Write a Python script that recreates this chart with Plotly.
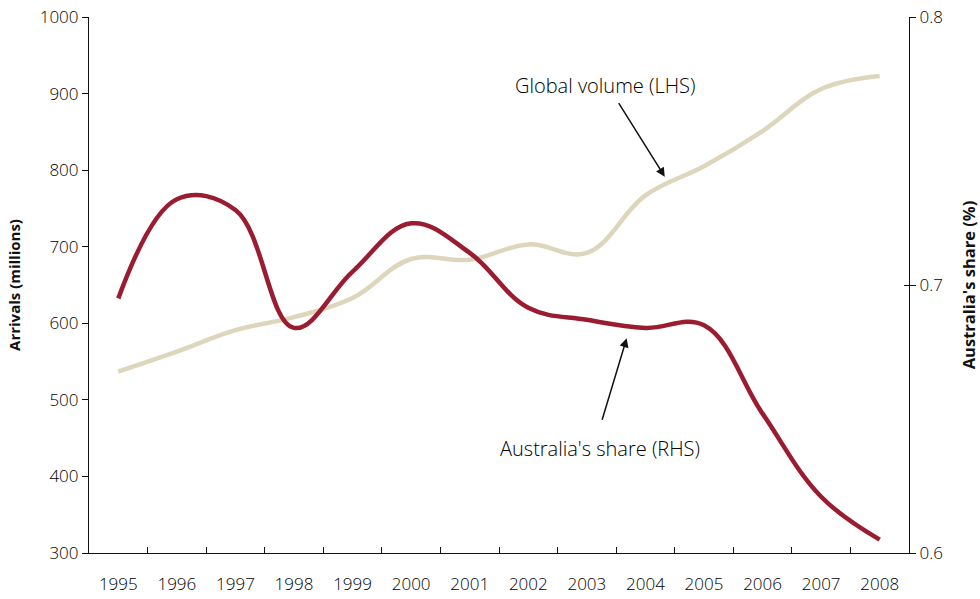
import plotly.graph_objects as go

years = list(range(1995, 2009))
global_volume = [537, 563, 591, 608, 633, 684, 683, 703, 692, 767, 805, 851, 906, 923]
aus_share = [0.695, 0.732, 0.728, 0.684, 0.705, 0.723, 0.712, 0.6915, 0.687, 0.684, 0.685, 0.652, 0.621, 0.605]
left_ticks = [300, 400, 500, 600, 700, 800, 900, 1000]
right_ticks = [0.6, 0.7, 0.8]
boundaries = [y - 0.5 for y in years] + [years[-1] + 0.5]

RED = "#9B1B30"
GOLD = "#DDD6BC"
FONT = "Open Sans"
TXT = "#111111"

fig = go.Figure()
fig.add_trace(go.Scatter(x=years, y=global_volume, mode="lines", name="Global volume (LHS)",
                         line=dict(color=GOLD, width=4.5, shape="spline", smoothing=1.1),
                         xaxis="x", yaxis="y", hoverinfo="skip"))
fig.add_trace(go.Scatter(x=years, y=aus_share, mode="lines", name="Australia's share (RHS)",
                         line=dict(color=RED, width=4.5, shape="spline", smoothing=1.1),
                         xaxis="x", yaxis="y2", hoverinfo="skip"))
# invisible traces to anchor the helper tick axes
fig.add_trace(go.Scatter(x=[years[0]], y=[global_volume[0]], mode="markers", marker=dict(opacity=0),
                         xaxis="x2", yaxis="y", showlegend=False, hoverinfo="skip"))
fig.add_trace(go.Scatter(x=[years[0]], y=[aus_share[0]], mode="markers", marker=dict(opacity=0),
                         xaxis="x", yaxis="y3", showlegend=False, hoverinfo="skip"))

tickfont = dict(size=17, family=FONT, color="#000000", weight=300)
xr = [boundaries[0], boundaries[-1]]
fig.update_layout(
    width=980, height=599,
    margin=dict(l=89, r=71, t=17, b=46, autoexpand=False),
    paper_bgcolor="white", plot_bgcolor="white",
    showlegend=False,
    font=dict(family=FONT, size=17, color=TXT),
    xaxis=dict(range=xr, tickvals=years, ticktext=[str(y) for y in years], ticks="",
               showline=True, linecolor=TXT, linewidth=1.2, showgrid=False, zeroline=False,
               tickfont=tickfont, anchor="y", automargin=False, ticklabelstandoff=15,
               ticklabeloverflow="allow"),
    xaxis2=dict(range=xr, overlaying="x", tickvals=boundaries, ticks="inside", ticklen=6,
                tickcolor=TXT, tickwidth=1.2, showticklabels=False, showline=False,
                showgrid=False, zeroline=False, side="bottom", anchor="y", automargin=False),
    yaxis=dict(range=[300, 1000], tickvals=left_ticks, ticks="outside", ticklen=6,
               tickcolor=TXT, tickwidth=1.2, showline=True, linecolor=TXT, linewidth=1.2,
               showgrid=False, zeroline=False, tickfont=tickfont, automargin=False,
               ticklabeloverflow="allow",
               title=dict(text="<b>Arrivals (millions)</b>", font=dict(size=15, family=FONT), standoff=15)),
    yaxis2=dict(range=[0.6, 0.8], tickvals=right_ticks, tickformat=".1f", overlaying="y", side="right",
                ticks="outside", ticklen=6, tickcolor=TXT, tickwidth=1.2, showline=True,
                linecolor=TXT, linewidth=1.2, showgrid=False, zeroline=False,
                tickfont=tickfont, anchor="x", automargin=False, ticklabeloverflow="allow",
                title=dict(text="<b>Australia's share (%)</b>", font=dict(size=16.5, family=FONT), standoff=21)),
    yaxis3=dict(range=[0.6, 0.8], tickvals=right_ticks, overlaying="y", side="right", anchor="x",
                ticks="inside", ticklen=5, tickcolor=TXT, tickwidth=1.2, showticklabels=False,
                showline=False, showgrid=False, zeroline=False, automargin=False),
)

annfont = dict(size=20, family=FONT, color="#000000", weight=300)
fig.add_annotation(x=2003.31, y=911, xref="x", yref="y", text="Global volume (LHS)",
                   showarrow=False, font=annfont)
fig.add_annotation(x=2003.22, y=437, xref="x", yref="y", text="Australia's share (RHS)",
                   showarrow=False, font=annfont)
fig.add_annotation(x=2004.33, y=791.5, xref="x", yref="y", text="", showarrow=True,
                   ax=-47, ay=-75, arrowhead=2, arrowsize=1.2, arrowwidth=1.5, arrowcolor="#111111",
                   standoff=0, startstandoff=0)
fig.add_annotation(x=2003.68, y=580.4, xref="x", yref="y", text="", showarrow=True,
                   ax=-25, ay=83, arrowhead=2, arrowsize=1.2, arrowwidth=1.5, arrowcolor="#111111",
                   standoff=0, startstandoff=0)

fig.write_html("out.html", config={"displayModeBar": False},
               post_script="document.body.style.margin='0';document.body.style.overflow='hidden';")
